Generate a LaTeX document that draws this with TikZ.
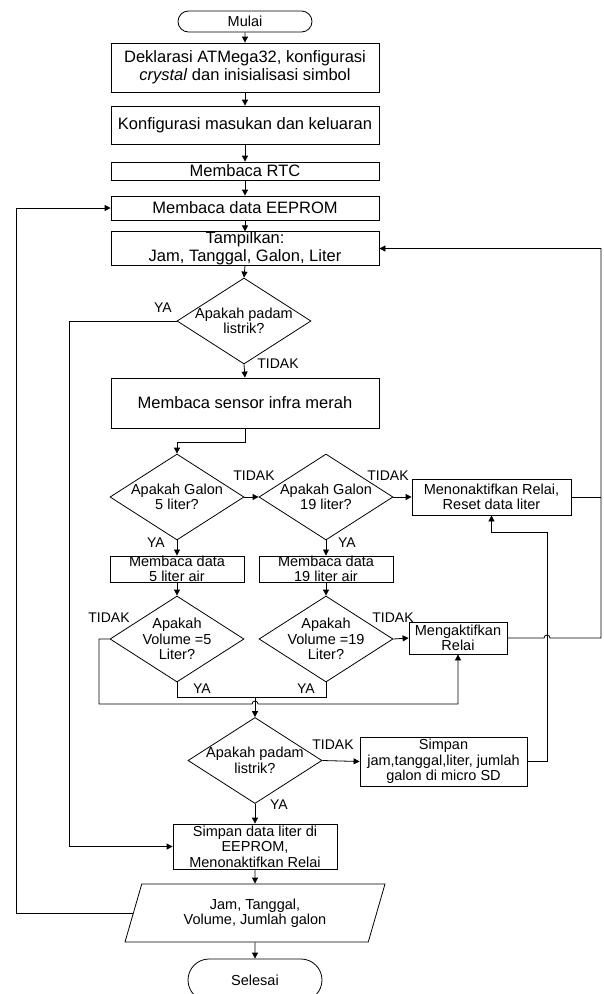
\documentclass[tikz,border=0pt]{standalone}
\usepackage{fontspec}
\setmainfont{Liberation Sans}
\usetikzlibrary{shapes.geometric,shapes.misc,arrows.meta,calc}
\tikzset{
  conn/.style={line width=0.8pt},
  arr/.style={conn,-{Triangle[length=6pt,width=6pt]}},
  box/.style={draw,conn,rectangle,align=center,inner sep=0pt,font=\fontsize{14.5}{15.5}\selectfont},
  bigbox/.style={box,minimum width=268pt,font=\fontsize{16.5}{18}\selectfont},
  term/.style={draw,conn,rounded rectangle,minimum width=134pt,inner sep=0pt,font=\fontsize{14.5}{15.5}\selectfont},
  decision/.style={draw,conn,diamond,minimum width=134pt,minimum height=86pt,inner sep=0pt},
  dtext/.style={align=center,inner sep=0pt,font=\fontsize{14.5}{15.5}\selectfont},
  datain/.style={draw,conn,trapezium,trapezium left angle=60,trapezium right angle=120,trapezium stretches body=true,
    minimum width=260pt,minimum height=58pt,inner sep=0pt,align=center,font=\fontsize{14.5}{15.5}\selectfont},
  lbl/.style={inner sep=0pt,font=\fontsize{14}{14}\selectfont}
}
\begin{document}
\begin{tikzpicture}[x=1pt,y=-1pt]
\useasboundingbox (0,0) rectangle (603,994);
\node[term,minimum height=21pt] (mul) at (245,21.5) {Mulai};
\node[bigbox,minimum height=49pt] (dek) at (245,67.5) {Deklarasi ATMega32, konfigurasi\\\textit{crystal} dan inisialisasi simbol};
\node[bigbox,minimum height=38pt] (kon) at (245,125) {Konfigurasi masukan dan keluaran};
\node[bigbox,minimum height=18pt] (rtc) at (245,171) {Membaca RTC};
\node[bigbox,minimum height=24pt] (eep) at (245,208) {Membaca data EEPROM};
\node[bigbox,minimum height=31pt] (tam) at (245,248.5) {Tampilkan:\\Jam, Tanggal, Galon, Liter};
\node[decision,label={[dtext]center:{Apakah padam\\listrik?}}] (d1) at (244,321) {};
\node[bigbox,minimum height=50pt] (sen) at (245,403) {Membaca sensor infra merah};
\node[decision,label={[dtext]center:{Apakah Galon\\5 liter?}}] (d2) at (177,497) {};
\node[decision,label={[dtext]center:{Apakah Galon\\19 liter?}}] (d3) at (326,497) {};
\node[box,minimum width=159pt,minimum height=36pt] (non) at (491.5,497) {Menonaktifkan Relai,\\Reset data liter};
\node[box,minimum width=134pt,minimum height=26pt] (m5) at (177,569) {Membaca data\\5 liter air};
\node[box,minimum width=134pt,minimum height=26pt] (m19) at (326,569) {Membaca data\\19 liter air};
\node[decision,label={[dtext]center:{Apakah\\Volume =5\\Liter?}}] (d4) at (177,639) {};
\node[decision,label={[dtext]center:{Apakah\\Volume =19\\Liter?}}] (d5) at (326,639) {};
\node[box,minimum width=98pt,minimum height=32pt] (akt) at (458,638) {Mengaktifkan\\Relai};
\node[decision,label={[dtext]center:{Apakah padam\\listrik?}}] (d6) at (255,760.5) {};
\node[box,minimum width=167pt,minimum height=49pt] (sd) at (443.5,761.5) {Simpan\\jam,tanggal,liter, jumlah\\galon di micro SD};
\node[box,minimum width=164pt,minimum height=45pt] (sim) at (255,846.5) {Simpan data liter di\\EEPROM,\\Menonaktifkan Relai};
\node[datain] (io) at (255,913) {Jam, Tanggal,\\Volume, Jumlah galon};
\node[term,minimum height=42pt] (sel) at (255,980) {Selesai};

\coordinate (lx) at (69,0);
\coordinate (fx) at (16,0);
\coordinate (rx) at (601,0);
\coordinate (sx) at (547,0);
\coordinate (sk) at (547,532);
\coordinate (tx) at (99,704);
\coordinate (j) at (255,697);

\draw[arr] (mul) -- (dek);
\draw[arr] (dek) -- (kon);
\draw[arr] (kon) -- (rtc);
\draw[arr] (rtc) -- (eep);
\draw[arr] (eep) -- (tam);
\draw[arr] (tam.south) -- (d1.north);
\draw[arr] (d1.south) -- (sen.north);
\draw[arr] (d1.west) -- (d1.west -| lx) |- (sim.west);
\draw[arr] (sen.south) -- ++(0,14) -| (d2.north);
\draw[arr] (d2.east) -- (d3.west);
\draw[arr] (d3.east) -- (non.west);
\draw[conn] (non.east) -- (non.east -| rx);
\draw[arr] (d2.south) -- (m5.north);
\draw[arr] (d3.south) -- (m19.north);
\draw[arr] (m5.south) -- (d4.north);
\draw[arr] (m19.south) -- (d5.north);
\draw[arr] (d4.west) -| (tx) -- ($(tx -| j)+(-3,0)$) arc[start angle=180,end angle=360,radius=3] -| (akt.south);
\draw[arr] (d5.east) -- (akt.west);
\draw[arr] (akt.east) -- ($(akt.east -| sx)+(-3,0)$) arc[start angle=180,end angle=360,radius=3]
  -- (akt.east -| rx) |- (tam.east);
\draw[conn] (d4.south) |- (j) -| (d5.south);
\draw[arr] (j) -- (d6.north);
\draw[arr] (d6.east) -- (sd.west);
\draw[arr] (sd.east) -| (sk) -| (non.south);
\draw[arr] (d6.south) -- (sim.north);
\draw[arr] (sim.south) -- (io.north);
\draw[arr] (io.left side) -- (io.left side -| fx) |- (eep.west);
\draw[arr] (io.south) -- (sel.north);

\node[lbl] at (163,308) {YA};
\node[lbl] at (278,364) {TIDAK};
\node[lbl] at (254,476) {TIDAK};
\node[lbl] at (388,476) {TIDAK};
\node[lbl] at (156,543) {YA};
\node[lbl] at (347,543) {YA};
\node[lbl] at (109,618) {TIDAK};
\node[lbl] at (393,618) {TIDAK};
\node[lbl] at (202,689) {YA};
\node[lbl] at (306,689) {YA};
\node[lbl] at (333,745) {TIDAK};
\node[lbl] at (279,805) {YA};
\end{tikzpicture}
\end{document}
